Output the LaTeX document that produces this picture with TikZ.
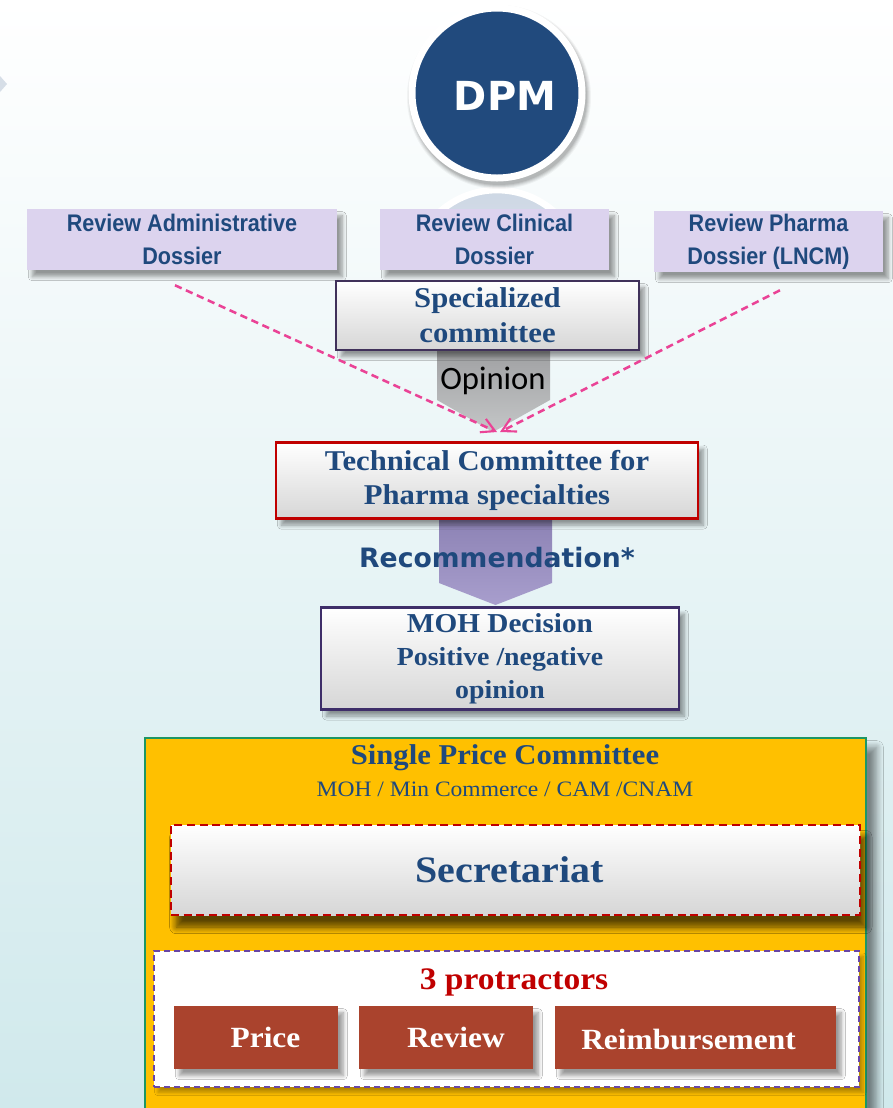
\documentclass[tikz,border=0pt]{standalone}
\usepackage{fontspec}
\usetikzlibrary{shadows.blur,arrows.meta,calc}
\newfontfamily\cambfont[FakeStretch=1.07]{Liberation Serif}
\newfontfamily\arialfont[FakeStretch=0.9]{Liberation Sans}
\newfontfamily\verdfont{DejaVu Sans}
\newfontfamily\califont{Carlito}

\definecolor{navy}{RGB}{31,73,125}
\definecolor{dpmblue}{RGB}{33,74,125}
\definecolor{lav}{RGB}{220,211,238}
\definecolor{specborder}{RGB}{64,49,90}
\definecolor{techred}{RGB}{192,0,0}
\definecolor{mohborder}{RGB}{62,46,105}
\definecolor{pinkline}{RGB}{234,67,150}
\definecolor{gold}{RGB}{255,192,0}
\definecolor{frame}{RGB}{30,150,100}
\definecolor{brick}{RGB}{170,67,45}
\definecolor{protborder}{RGB}{105,70,165}
\definecolor{opfill}{RGB}{196,198,199}
\definecolor{optop}{RGB}{160,161,163}
\definecolor{recfill}{RGB}{168,158,205}
\definecolor{rectop}{RGB}{140,130,180}
\definecolor{bgbottom}{RGB}{208,233,236}
\definecolor{bgmid}{RGB}{234,245,246}
\definecolor{boxgray}{RGB}{214,214,214}
\definecolor{ghosttop}{RGB}{205,215,228}
\definecolor{ghostbot}{RGB}{236,241,246}
\definecolor{chevron}{RGB}{214,222,231}

\tikzset{
  softshadow/.style={blur shadow={shadow xshift=4pt, shadow yshift=-5pt,
      shadow opacity=40, shadow blur steps=8, shadow blur radius=3pt}},
  lavbox/.style={rectangle, fill=lav, inner sep=0pt,
      minimum width=#1, minimum height=45.75pt, text=navy, align=center,
      font=\arialfont\bfseries\fontsize{18}{24.75}\selectfont, softshadow},
  graybox/.style={rectangle, top color=white, bottom color=boxgray,
      inner sep=0pt, text=navy, align=center, softshadow},
  brickbox/.style={rectangle, fill=brick, inner sep=0pt,
      minimum width=#1, minimum height=47.25pt, softshadow},
  bricktext/.style={text=white, font=\cambfont\bfseries\fontsize{22}{26}\selectfont},
  dashlink/.style={draw=pinkline, line width=1.9pt, dash pattern=on 5.5pt off 3.5pt,
      -{Straight Barb[length=10pt,width=11pt,line width=1.6pt]}}
}

\begin{document}
\begin{tikzpicture}[x=0.75pt,y=-0.75pt]
\useasboundingbox (0,0) rectangle (893,1108);
\clip (0,0) rectangle (893,1108);

% background wash
\shade[top color=white, middle color=bgmid, bottom color=bgbottom]
  (0,0) rectangle (893,1108);
\fill[chevron] (0,76) -- (7,84) -- (0,92) -- cycle;

% mirrored ghost of the DPM disc
\begin{scope}
  \clip (380,150) rectangle (610,209);
  \shade[top color=ghosttop, bottom color=ghostbot, draw=white, line width=5pt]
    (497,276) circle (86);
\end{scope}

% DPM disc with a soft shadow
\foreach \r/\o in {92/0.04,91/0.05,90/0.06,89/0.07,88/0.08}
  \fill[black, opacity=\o] (499,97) circle (\r);
\node[circle, fill=dpmblue, draw=white, line width=5.25pt, minimum size=127.5pt]
  (dpm) at (497,93) {};
\node[text=white, font=\verdfont\bfseries\fontsize{30}{36}\selectfont]
  (dpmlabel) at ($(dpm)+(8,3)$) {DPM};

% anchor points of the committee chain
\coordinate (specfoot) at (487.5,351);
\coordinate (techhead) at (487,441);
\coordinate (techfoot) at (487,517);
\coordinate (mohhead) at (500,606);

% block arrows between committees
\path[top color=optop, bottom color=opfill]
  ($(specfoot)+(-50.5,0)$) -- ($(specfoot)+(62.5,0)$) -- ($(specfoot)+(62.5,49)$)
  -- ($(techhead)+(6,-9)$) -- ($(specfoot)+(-50.5,49)$) -- cycle;
\path[top color=rectop, bottom color=recfill]
  ($(techfoot)+(-48,0)$) -- ($(techfoot)+(65,0)$) -- ($(techfoot)+(65,66)$)
  -- ($(mohhead)+(-4.5,-1)$) -- ($(techfoot)+(-48,66)$) -- cycle;

% review dossiers
\node[lavbox=232.5pt] (adm) at (182,239.5) {Review Administrative\\Dossier};
\node[lavbox=171.75pt] (cli) at (494.5,239.5) {Review Clinical\\Dossier};
\node[lavbox=171.75pt] (pha) at (768.5,241.5) {Review Pharma\\Dossier (LNCM)};

% committees
\node[graybox, draw=specborder, line width=1.6pt, minimum width=227.25pt, minimum height=51.75pt,
      font=\cambfont\bfseries\fontsize{21.5}{26.5}\selectfont, anchor=south]
  (spec) at (specfoot) {Specialized\\committee};

\node[graybox, draw=techred, line width=2.2pt, minimum width=316.5pt, minimum height=57pt,
      font=\cambfont\bfseries\fontsize{21.5}{26}\selectfont, anchor=north]
  (tech) at (techhead) {Technical Committee for\\Pharma specialties};

\node[graybox, draw=mohborder, line width=2pt, minimum width=268.5pt, minimum height=76.5pt,
      font=\cambfont\bfseries\fontsize{19.5}{24.75}\selectfont, anchor=north]
  (moh) at (mohhead) {{\fontsize{20.5}{24.75}\selectfont MOH Decision}\\Positive /negative\\opinion};

\node[font=\califont\fontsize{24.5}{28}\selectfont, text=black] (op) at (493,381) {Opinion};
\node[font=\verdfont\bfseries\fontsize{20}{24}\selectfont, text=navy] (rec) at (497,558) {Recommendation*};

% dossier flows into the technical committee
\coordinate (meet) at ($(tech.north)+(11,-9)$);
\coordinate (admfoot) at ($(adm.south)+(-7,15)$);
\coordinate (phafoot) at ($(pha.south)+(11.5,18)$);
\draw[dashlink] (admfoot) -- ($(meet)+(-1,0)$);
\draw[dashlink] (phafoot) -- ($(meet)+(2,0)$);

% single price committee
\node[rectangle, fill=gold, draw=frame, line width=1.9pt, minimum width=540.75pt, minimum height=294pt,
      inner sep=0pt,
      blur shadow={shadow xshift=8pt, shadow yshift=-7pt, shadow opacity=45, shadow blur steps=10, shadow blur radius=5pt}]
  (spc) at (505.5,934) {};
\node[text=navy, font=\cambfont\bfseries\fontsize{21.5}{25}\selectfont] (spctitle) at (505,758) {Single Price Committee};
\node[text=navy, font=\cambfont\fontsize{16.5}{19}\selectfont] (spcsub) at (505,789) {MOH / Min Commerce / CAM /CNAM};

\node[graybox, draw=techred, line width=1.9pt, dash pattern=on 6pt off 3.5pt,
      minimum width=516.75pt, minimum height=67.5pt,
      font=\cambfont\bfseries\fontsize{28}{32}\selectfont,
      blur shadow={shadow xshift=4pt, shadow yshift=-9pt, shadow opacity=40, shadow blur steps=10, shadow blur radius=5pt}]
  (sec) at (515.5,870) {\hspace*{-9pt}Secretariat};

\node[rectangle, fill=white, draw=protborder, line width=1.1pt, dash pattern=on 4.5pt off 3pt,
      minimum width=528.75pt, minimum height=102pt, inner sep=0pt,
      blur shadow={shadow xshift=3pt, shadow yshift=-4pt, shadow opacity=30, shadow blur steps=6, shadow blur radius=2.5pt}]
  (pro) at (506.5,1019) {};
\node[text=techred, font=\cambfont\bfseries\fontsize{23.5}{27}\selectfont] (protitle) at (514,982) {3 protractors};

\node[brickbox=123pt] (price) at (256,1037.5) {};
\node[brickbox=130.5pt] (review) at (446,1037.5) {};
\node[brickbox=210.75pt] (reimb) at (695.5,1037.5) {};
\node[bricktext] (pricet) at ($(price)+(9.5,0)$) {Price};
\node[bricktext] (reviewt) at ($(review)+(10,0)$) {Review};
\node[bricktext] (reimbt) at ($(reimb)+(-7,2)$) {Reimbursement};
\end{tikzpicture}
\end{document}
